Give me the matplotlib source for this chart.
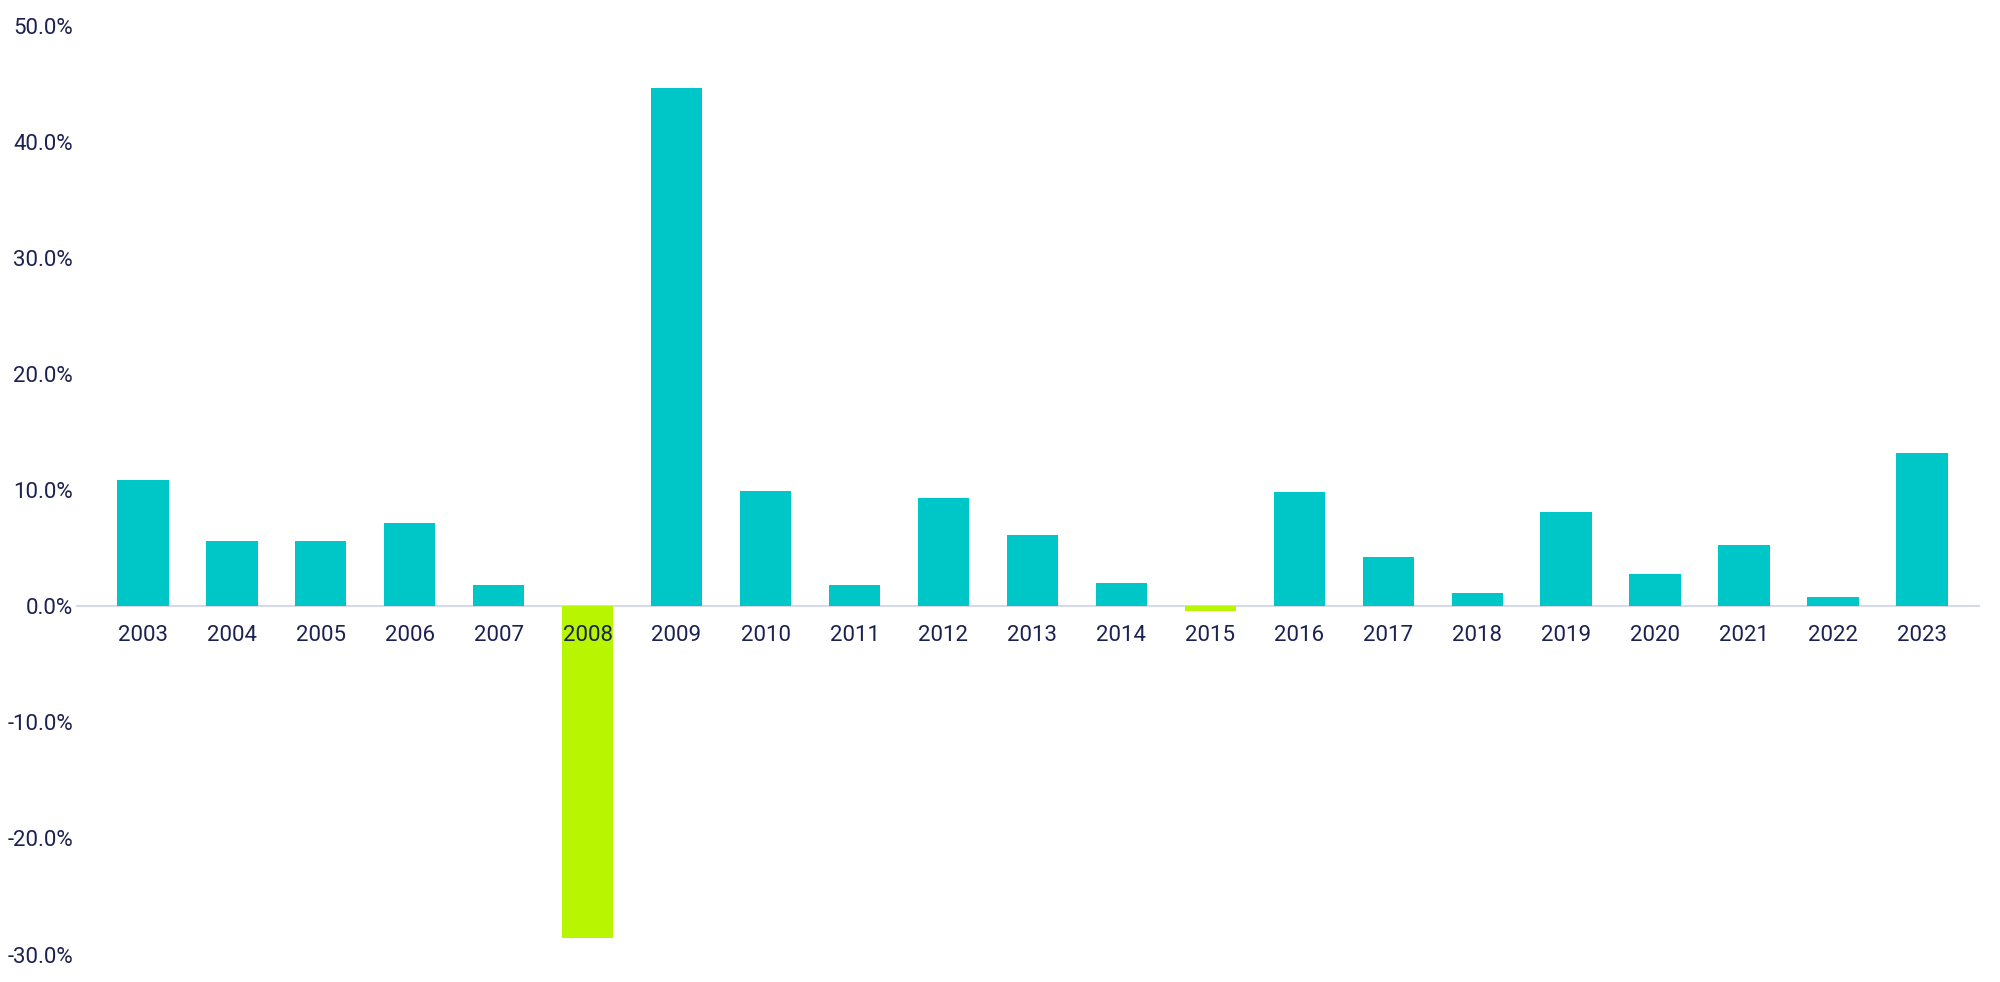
import matplotlib.pyplot as plt
from matplotlib.ticker import FuncFormatter

plt.rcParams['font.family'] = ['Roboto', 'DejaVu Sans']

years = [str(y) for y in range(2003, 2024)]
returns = [10.9, 5.6, 5.6, 7.2, 1.8, -28.6, 44.6, 9.9, 1.8, 9.3, 6.1,
           2.0, -0.4, 9.8, 4.2, 1.1, 8.1, 2.8, 5.3, 0.8, 13.2]

pos_color = '#00C7C7'
neg_color = '#B8F500'
text_color = '#1B2150'

fig = plt.figure(figsize=(20, 9.82), dpi=100)
ax = fig.add_axes([0.038, 0.028, 0.952, 0.946])

colors = [pos_color if v >= 0 else neg_color for v in returns]
x = range(len(years))
ax.bar(x, returns, width=0.58, color=colors, zorder=2)
ax.axhline(0, color='#D5DAE8', lw=1.5, zorder=1)

for i, yr in enumerate(years):
    ax.text(i, -1.6, yr, ha='center', va='top', fontsize=16, color=text_color)

ax.set_ylim(-30, 50)
ax.set_xlim(-0.75, len(years) - 0.35)
ax.set_yticks(range(-30, 51, 10))
ax.yaxis.set_major_formatter(FuncFormatter(lambda v, p: f'{v:.1f}%'))
ax.tick_params(axis='y', length=0, labelsize=16, labelcolor=text_color, pad=2)
ax.set_xticks([])
for s in ax.spines.values():
    s.set_visible(False)

fig.savefig('out.png')
